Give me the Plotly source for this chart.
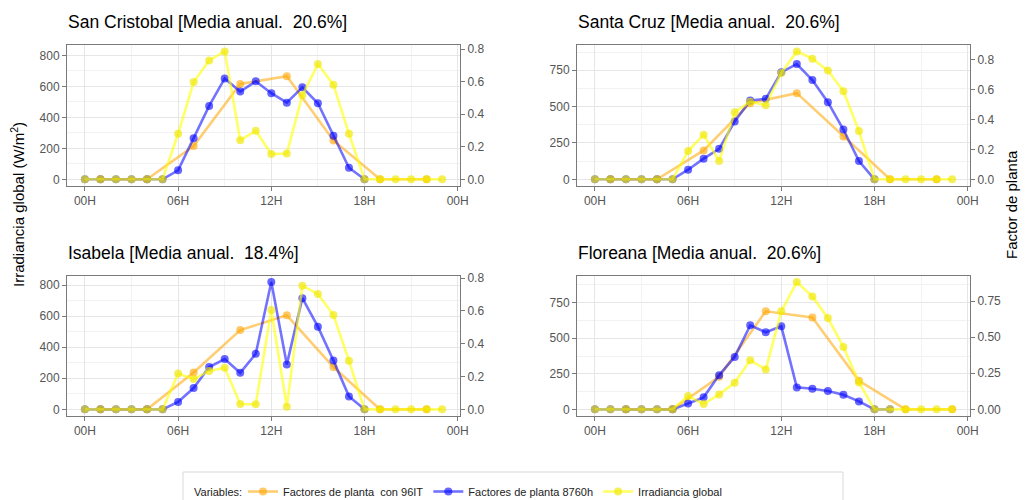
import plotly.graph_objects as go

# ---- data -------------------------------------------------------------
hours = list(range(24))

islands = ["San Cristobal", "Santa Cruz", "Isabela", "Floreana"]
annual_mean = ["20.6%", "20.6%", "18.4%", "20.6%"]

# Global irradiance (W/m2), hourly 00H..23H
irr_san_cristobal = [0, 0, 0, 0, 0, 0, 294, 628, 768, 826, 253, 313, 163, 167, 543, 744, 611, 294, 0, 0, 0, 0, 0, 0]
irr_santa_cruz = [0, 0, 0, 0, 0, 0, 194, 307, 126, 462, 533, 510, 732, 880, 830, 748, 606, 332, 0, 0, 0, 0, 0, 0]
irr_isabela = [0, 0, 0, 0, 0, 0, 230, 195, 247, 268, 34, 32, 639, 17, 796, 742, 607, 313, 0, 0, 0, 0, 0, 0]
irr_floreana = [0, 0, 0, 0, 0, 0, 93, 37, 105, 187, 346, 280, 689, 895, 794, 642, 439, 189, 0, 0, 0, 0, 0, 0]

# Plant factor from the 8760 h series
fp8760_hours_a = list(range(19))
fp8760_hours_b = list(range(20))
fp8760_san_cristobal = [0, 0, 0, 0, 0, 0, 0.055, 0.253, 0.451, 0.620, 0.539, 0.602, 0.529, 0.471, 0.565, 0.467, 0.267, 0.071, 0]
fp8760_santa_cruz = [0, 0, 0, 0, 0, 0, 0.064, 0.138, 0.204, 0.387, 0.527, 0.538, 0.716, 0.771, 0.664, 0.516, 0.333, 0.122, 0]
fp8760_isabela = [0, 0, 0, 0, 0, 0, 0.045, 0.130, 0.258, 0.307, 0.223, 0.339, 0.776, 0.274, 0.678, 0.504, 0.298, 0.079, 0]
fp8760_floreana = [0, 0, 0, 0, 0, 0, 0.041, 0.083, 0.237, 0.363, 0.582, 0.534, 0.575, 0.152, 0.143, 0.127, 0.101, 0.055, 0, 0]

# Plant factor with 96 IT (three-hourly)
fp96_hours_a = [1, 4, 7, 10, 13, 16, 19, 22]
fp96_hours_b = [2, 5, 8, 11, 14, 17, 20, 23]
fp96_san_cristobal = [0, 0, 0.204, 0.586, 0.633, 0.239, 0, 0]
fp96_santa_cruz = [0, 0, 0.193, 0.509, 0.576, 0.287, 0, 0]
fp96_isabela = [0, 0, 0.225, 0.483, 0.573, 0.258, 0, 0]
fp96_floreana = [0, 0, 0.225, 0.679, 0.637, 0.198, 0, 0]

x_tick_vals = [0, 6, 12, 18, 24]
x_tick_text = ["00H", "06H", "12H", "18H", "00H"]

# ---- panel setup --------------------------------------------------------
panels = [
    dict(irr=irr_san_cristobal, fp=fp8760_san_cristobal, fph=fp8760_hours_a,
         f96=fp96_san_cristobal, f96h=fp96_hours_a, coef=1051, ldt=200, rdt=0.2, rfmt=".1f",
         dx=[0.0652, 0.4475], dy=[0.6286, 0.91]),
    dict(irr=irr_santa_cruz, fp=fp8760_santa_cruz, fph=fp8760_hours_a,
         f96=fp96_santa_cruz, f96h=fp96_hours_a, coef=1029, ldt=250, rdt=0.2, rfmt=".1f",
         dx=[0.5613, 0.9436], dy=[0.6286, 0.91]),
    dict(irr=irr_isabela, fp=fp8760_isabela, fph=fp8760_hours_a,
         f96=fp96_isabela, f96h=fp96_hours_a, coef=1056, ldt=200, rdt=0.2, rfmt=".1f",
         dx=[0.0652, 0.4475], dy=[0.1686, 0.4486]),
    dict(irr=irr_floreana, fp=fp8760_floreana, fph=fp8760_hours_b,
         f96=fp96_floreana, f96h=fp96_hours_b, coef=1015, ldt=250, rdt=0.25, rfmt=".2f",
         dx=[0.5613, 0.9436], dy=[0.1686, 0.4486]),
]

ORANGE_L, ORANGE_M = "rgba(255,165,0,0.55)", "rgba(255,165,0,0.6)"
BLUE_L, BLUE_M = "rgba(0,0,255,0.55)", "rgba(0,0,255,0.6)"
YELLOW_L, YELLOW_M = "rgba(255,255,0,0.6)", "rgba(240,230,0,0.65)"

FONT = "Liberation Sans, Arial, sans-serif"
GRID = "#e6e6e6"
GRID_MINOR = "#f2f2f2"
FRAME = "#7a7a7a"
TICKLAB = "#555555"

fig = go.Figure()
layout = {}

for i, p in enumerate(panels):
    n = i + 1
    xa = "x" if n == 1 else f"x{n}"
    yf = f"y{2 * n - 1}" if n > 1 else "y"   # plant factor axis (right)
    yi = f"y{2 * n}"                          # irradiance axis (left)
    coef = p["coef"]

    top = max(max(p["irr"]), max(p["fp"]) * coef, max(p["f96"]) * coef)
    pad = 0.05 * top
    lrange = [-pad, top + pad]
    rrange = [lrange[0] / coef, lrange[1] / coef]

    first = i == 0
    fig.add_trace(go.Scatter(
        x=p["f96h"], y=p["f96"], mode="lines+markers", name="Factores de planta\u00a0 con 96IT",
        legendgroup="o", showlegend=first, xaxis=xa, yaxis=yf,
        line=dict(color=ORANGE_L, width=2.6), marker=dict(color=ORANGE_M, size=8)))
    fig.add_trace(go.Scatter(
        x=p["fph"], y=p["fp"], mode="lines+markers", name="Factores de planta 8760h",
        legendgroup="b", showlegend=first, xaxis=xa, yaxis=yf,
        line=dict(color=BLUE_L, width=2.6), marker=dict(color=BLUE_M, size=8)))
    fig.add_trace(go.Scatter(
        x=hours, y=p["irr"], mode="lines+markers", name="Irradiancia global",
        legendgroup="y", showlegend=first, xaxis=xa, yaxis=yi,
        line=dict(color=YELLOW_L, width=2.6), marker=dict(color=YELLOW_M, size=8)))

    xkey = "xaxis" if n == 1 else f"xaxis{n}"
    yfkey = "yaxis" if n == 1 else f"yaxis{2 * n - 1}"
    yikey = f"yaxis{2 * n}"

    layout[xkey] = dict(
        domain=p["dx"], anchor=yf, range=[-1.15, 24.15],
        tickmode="array", tickvals=x_tick_vals, ticktext=x_tick_text,
        showgrid=True, gridcolor=GRID, gridwidth=1,
        minor=dict(tickvals=[3, 9, 15, 21], showgrid=True, gridcolor=GRID_MINOR, gridwidth=0.7),
        ticks="outside", ticklen=4, tickcolor=FRAME, tickwidth=1,
        showline=True, mirror=True, linecolor=FRAME, linewidth=1,
        zeroline=False, tickfont=dict(size=12, color=TICKLAB, family=FONT), fixedrange=True)
    layout[yfkey] = dict(
        domain=p["dy"], anchor=xa, side="right", range=rrange,
        tickmode="linear", tick0=0, dtick=p["rdt"], tickformat=p["rfmt"],
        showgrid=False, zeroline=False,
        ticks="outside", ticklen=4, tickcolor=FRAME, tickwidth=1,
        showline=True, linecolor=FRAME, linewidth=1,
        tickfont=dict(size=12, color=TICKLAB, family=FONT), fixedrange=True)
    layout[yikey] = dict(
        domain=p["dy"], anchor=xa, overlaying=yf, side="left", range=lrange,
        tickmode="linear", tick0=0, dtick=p["ldt"],
        showgrid=True, gridcolor=GRID, gridwidth=1,
        minor=dict(tick0=0, dtick=p["ldt"] / 2, showgrid=True, gridcolor=GRID_MINOR, gridwidth=0.7),
        zeroline=False,
        ticks="outside", ticklen=4, tickcolor=FRAME, tickwidth=1,
        showline=True, linecolor=FRAME, linewidth=1,
        tickfont=dict(size=12, color=TICKLAB, family=FONT), fixedrange=True)

# ---- titles ---------------------------------------------------------------
annotations = []
for p, name, mean in zip(panels, islands, annual_mean):
    annotations.append(dict(
        text=f"{name} [Media anual.\u00a0 {mean}]", xref="paper", yref="paper",
        x=p["dx"][0] - 0.001, y=p["dy"][1] + 0.046, xanchor="left", yanchor="middle",
        showarrow=False, font=dict(size=17.5, color="black", family=FONT)))

annotations.append(dict(
    text="Irradiancia global (W/m<sup>2</sup>)", xref="paper", yref="paper",
    x=18 / 1028, y=1 - 205 / 500, xanchor="center", yanchor="middle", textangle=-90,
    showarrow=False, font=dict(size=15, color="black", family=FONT)))
annotations.append(dict(
    text="Factor de planta", xref="paper", yref="paper",
    x=1012 / 1028, y=1 - 205 / 500, xanchor="center", yanchor="middle", textangle=-90,
    showarrow=False, font=dict(size=15, color="black", family=FONT)))

# legend caption, level with the legend entries
annotations.append(dict(
    text="Variables:", xref="paper", yref="paper",
    x=192 / 1028, y=1 - 492 / 500, xanchor="left", yanchor="middle",
    showarrow=False, font=dict(size=11, color="#222222", family=FONT)))

fig.update_layout(
    width=1028, height=500,
    margin=dict(l=0, r=0, t=0, b=0, autoexpand=False),
    paper_bgcolor="white", plot_bgcolor="white",
    font=dict(family=FONT, color="black"),
    annotations=annotations,
    shapes=[dict(type="rect", xref="paper", yref="paper",
                 x0=183 / 1028, x1=843 / 1028, y0=-0.05, y1=1 - 472 / 500,
                 line=dict(color="#d9d9d9", width=1), fillcolor="rgba(0,0,0,0)", layer="below")],
    legend=dict(
        orientation="h", x=243 / 1028, y=1 - 477 / 500, xanchor="left", yanchor="top",
        font=dict(size=11, color="#222222", family=FONT),
        bgcolor="rgba(0,0,0,0)", borderwidth=0,
        itemwidth=30),
    **layout,
)

fig.write_html("out.html")
